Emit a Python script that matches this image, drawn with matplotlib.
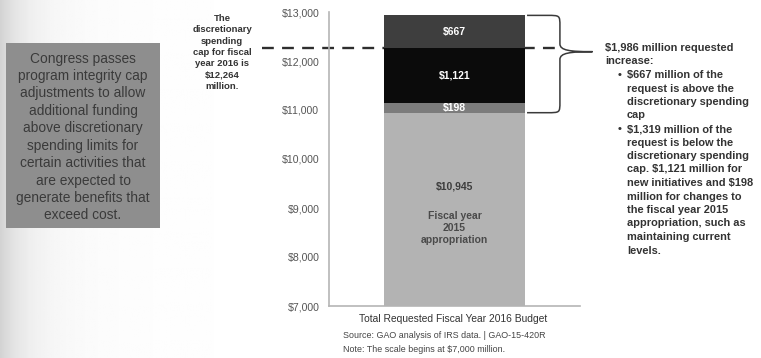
import numpy as np
import matplotlib
matplotlib.use("Agg")
import matplotlib.pyplot as plt
from matplotlib.path import Path
from matplotlib.patches import PathPatch, Rectangle

plt.rcParams['font.family'] = ['Liberation Sans', 'DejaVu Sans']

# Budget components (millions of dollars), stacked bottom to top
segments = ["Fiscal year 2015 appropriation", "Changes to FY2015 appropriation",
            "New initiatives", "Above discretionary cap"]
values = [10945, 198, 1121, 667]
colors = ["#b3b3b3", "#7c7c7c", "#0b0b0b", "#3e3e3e"]
spending_cap = 12264
category = "Total Requested Fiscal Year 2016 Budget"
y_ticks = [7000, 8000, 9000, 10000, 11000, 12000, 13000]

W, H = 761, 358
fig = plt.figure(figsize=(W / 100, H / 100), dpi=100)

# soft slide background, darker at the left edge
bg = fig.add_axes([0, 0, 1, 1], zorder=-10)
xs = np.linspace(0, 1, 400)
grad = 1 - 0.13 * np.exp(-xs / 0.03) - 0.04 * np.exp(-xs / 0.12)
bg.imshow(np.tile(grad, (10, 1)), cmap="gray", vmin=0, vmax=1, aspect="auto",
          extent=[0, 1, 0, 1])
bg.set_axis_off()

def fx(px):
    return px / W

def fy(py):
    return 1 - py / H

ax_left, ax_right, ax_top, ax_bot = 329, 580, 12, 306
ax = fig.add_axes([fx(ax_left), fy(ax_bot), fx(ax_right - ax_left), (ax_bot - ax_top) / H])
ax.set_facecolor("none")
ax.set_xlim(-0.5, 0.5)
ax.set_ylim(7000, 13000)

bottom = 0
bar_w = 0.56
cum = []
for v, c in zip(values, colors):
    ax.bar(0, v, width=bar_w, bottom=bottom, color=c, zorder=3)
    cum.append((bottom, bottom + v))
    bottom += v

# discretionary spending cap (hidden behind the bar)
ax.plot([-0.267, 0.90], [spending_cap, spending_cap], transform=ax.get_yaxis_transform(),
        color="#2e2e2e", lw=1.7, dashes=(5, 3.5), clip_on=False, zorder=2)

# value labels inside the bar
for k in (3, 2, 1):
    ax.text(0, (cum[k][0] + cum[k][1]) / 2, f"${values[k]:,}", color="white", ha="center",
            va="center", fontsize=7.5, fontweight="bold", zorder=4)
ax.text(0, 9430, f"${values[0]:,}", color="#3d3d3d", ha="center", va="center",
        fontsize=7.5, fontweight="bold", zorder=4)
ax.text(0, 8590, "Fiscal year\n2015\nappropriation", color="#4a4a4a", ha="center",
        va="center", fontsize=7.5, fontweight="bold", linespacing=1.3, zorder=4)

# axes styling
for s in ["top", "right"]:
    ax.spines[s].set_visible(False)
for s in ["left", "bottom"]:
    ax.spines[s].set_color("#b5b5b5")
    ax.spines[s].set_linewidth(1.2)
ax.set_xticks([])
ax.set_yticks(y_ticks)
ax.set_yticklabels([f"${t:,}" for t in y_ticks])
ax.tick_params(axis="y", length=0, pad=7, labelsize=7.6, labelcolor="#555555")

# curly brace around the requested increase
top, low = cum[3][1], cum[1][0]
tip = 12190
xl, xv, xt = 0.789, 0.92, 1.05
verts = [(xl, top), (0.87, top),
         (xv, top), (xv, top), (xv, top - 220),
         (xv, tip + 160),
         (xv, tip + 25), (0.96, tip), (xt, tip),
         (0.96, tip), (xv, tip - 25), (xv, tip - 160),
         (xv, low + 220),
         (xv, low), (xv, low), (0.87, low),
         (xl, low)]
codes = [Path.MOVETO, Path.LINETO,
         Path.CURVE4, Path.CURVE4, Path.CURVE4,
         Path.LINETO,
         Path.CURVE4, Path.CURVE4, Path.CURVE4,
         Path.CURVE4, Path.CURVE4, Path.CURVE4,
         Path.LINETO,
         Path.CURVE4, Path.CURVE4, Path.CURVE4,
         Path.LINETO]
ax.add_patch(PathPatch(Path(verts, codes), transform=ax.get_yaxis_transform(),
                       fill=False, ec="#3a3a3a", lw=1.1, clip_on=False, zorder=3))

# category label and source notes
fig.text(fx(453), fy(319), category, ha="center", va="center", fontsize=7.4, color="#333333")
fig.text(fx(343), fy(336), "Source: GAO analysis of IRS data. | GAO-15-420R", ha="left",
         va="center", fontsize=6.4, color="#444444")
fig.text(fx(343), fy(349), "Note: The scale begins at $7,000 million.", ha="left",
         va="center", fontsize=6.4, color="#444444")

# cap annotation to the left of the axis
fig.text(fx(222), fy(52.5),
         f"The\ndiscretionary\nspending\ncap for fiscal\nyear 2016 is\n${spending_cap:,}\nmillion.",
         ha="center", va="center", fontsize=6.8, fontweight="bold", color="#333333",
         linespacing=1.33)

# grey call-out box
fig.patches.append(Rectangle((fx(6), fy(228)), fx(154), (228 - 43) / H,
                             transform=fig.transFigure, fc="#8e8e8e", ec="none", zorder=1))
fig.text(fx(83), fy(137),
         "Congress passes\nprogram integrity cap\nadjustments to allow\nadditional funding\n"
         "above discretionary\nspending limits for\ncertain activities that\nare expected to\n"
         "generate benefits that\nexceed cost.",
         ha="center", va="center", fontsize=9.9, color="#3a3a3a", linespacing=1.31, zorder=2)

# explanation of the requested increase
increase = sum(values[1:])
below_cap = values[1] + values[2]
lines = [
    (0, f"${increase:,} million requested"),
    (0, "increase:"),
    (2, f"${values[3]:,} million of the"),
    (1, "request is above the"),
    (1, "discretionary spending"),
    (1, "cap"),
    (2, f"${below_cap:,} million of the"),
    (1, "request is below the"),
    (1, "discretionary spending"),
    (1, f"cap. ${values[2]:,} million for"),
    (1, f"new initiatives and ${values[1]:,}"),
    (1, "million for changes to"),
    (1, "the fiscal year 2015"),
    (1, "appropriation, such as"),
    (1, "maintaining current"),
    (1, "levels."),
]
y0, dy = 48, 13.5
for i, (kind, txt) in enumerate(lines):
    y = y0 + i * dy
    if kind == 0:
        fig.text(fx(605), fy(y), txt, ha="left", va="center", fontsize=7.9,
                 fontweight="bold", color="#333333")
    else:
        if kind == 2:
            fig.text(fx(618), fy(y), "\u2022", ha="left", va="center", fontsize=7.9,
                     fontweight="bold", color="#333333")
        fig.text(fx(627), fy(y), txt, ha="left", va="center", fontsize=7.9,
                 fontweight="bold", color="#333333")

fig.savefig("out.png", dpi=100)
